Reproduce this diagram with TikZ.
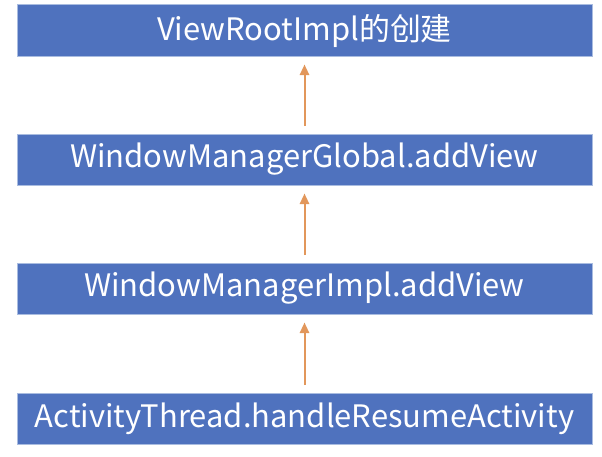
\documentclass[tikz,border=0pt]{standalone}
\usepackage{fontspec}
\newfontfamily\cjk{Noto Sans CJK SC}
\usetikzlibrary{arrows.meta}
\definecolor{boxblue}{HTML}{4F72BE}
\definecolor{boxedge}{HTML}{A9BCE0}
\definecolor{uporange}{HTML}{E2975B}
\begin{document}
\begin{tikzpicture}[x=0.75pt,y=-0.75pt,
  box/.style={fill=boxblue,draw=boxedge,line width=0.4pt,text=white,
    minimum width=431.25pt,minimum height=38.6pt,inner sep=0pt,
    font=\cjk\fontsize{23.2}{27}\selectfont},
  up/.style={draw=uporange,line width=1.5pt,-{Triangle[length=8pt,width=7pt]},
    shorten <=5.5pt,shorten >=6pt}]
\useasboundingbox (0,0) rectangle (602,456);
\node[box] (root) at (304.5,30.5) {ViewRootImpl的创建};
\node[box] (global) at (304.5,159.5) {WindowManagerGlobal.addView};
\node[box] (impl) at (304.5,288.5) {WindowManagerImpl.addView};
\node[box] (thread) at (304.5,418.5) {ActivityThread.handleResumeActivity};
\draw[up] (global) -- (root);
\draw[up] (impl) -- (global);
\draw[up] (thread) -- (impl);
\end{tikzpicture}
\end{document}
